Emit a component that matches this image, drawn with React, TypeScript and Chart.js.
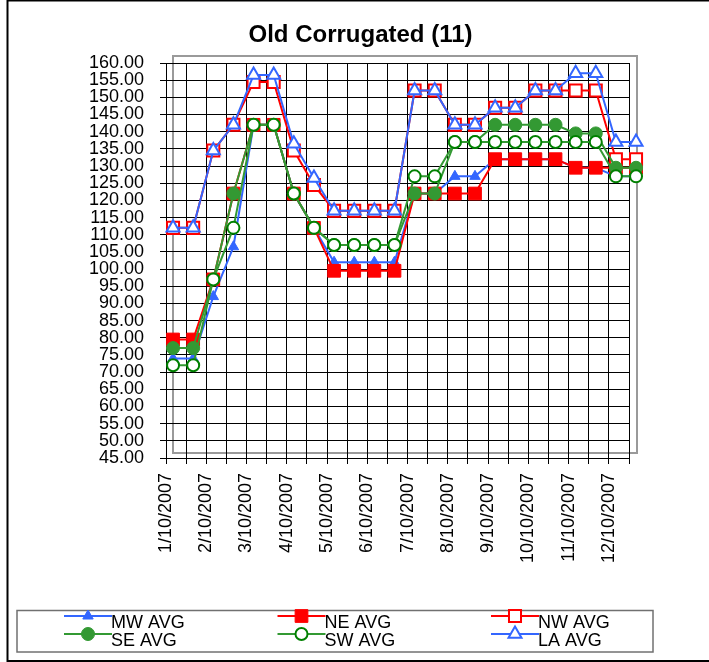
import React, { useEffect, useRef } from 'react';
import { Chart, registerables } from 'chart.js';
import { drawPoint } from 'chart.js/helpers';

Chart.register(...registerables);

const TITLE = 'Old Corrugated (11)';
const X_LABELS = [
  '1/10/2007', '2/10/2007', '3/10/2007', '4/10/2007', '5/10/2007', '6/10/2007',
  '7/10/2007', '8/10/2007', '9/10/2007', '10/10/2007', '11/10/2007', '12/10/2007',
];
const MW_AVG = [74, 74, 92, 106.5, 142, 142, 122, 112, 102, 102, 102, 102, 122, 122, 127, 127, 132, 132, 132, 132, 129.5, 129.5, 127, 127];
const NE_AVG = [79.5, 79.5, 97, 122, 142, 142, 122, 112, 99.5, 99.5, 99.5, 99.5, 122, 122, 122, 122, 132, 132, 132, 132, 129.5, 129.5, 129.5, 129.5];
const NW_AVG = [112, 112, 134.5, 142, 154.5, 154.5, 134.5, 124.5, 117, 117, 117, 117, 152, 152, 142, 142, 147, 147, 152, 152, 152, 152, 132, 132];
const SE_AVG = [77, 77, 97, 122, 142, 142, 122, 112, 107, 107, 107, 107, 122, 122, 137, 137, 142, 142, 142, 142, 139.5, 139.5, 129.5, 129.5];
const SW_AVG = [72, 72, 97, 112, 142, 142, 122, 112, 107, 107, 107, 107, 127, 127, 137, 137, 137, 137, 137, 137, 137, 137, 127, 127];
const LA_AVG = [112, 112, 134.5, 142, 156.5, 156.5, 136.5, 126.5, 117, 117, 117, 117, 152, 152, 142, 142, 147, 147, 152, 152, 157, 157, 137, 137];

const Y_MIN = 45;
const Y_MAX = 160;
const Y_STEP = 5;
const READING_SHIFT = 0.35; // readings sit a little right of each gridline
const FONT = '"Liberation Sans", Arial, sans-serif';

const BLUE = '#3366FF';
const RED = '#FF0000';
const GREEN = '#339933';
const DKGREEN = '#008000';

export default function App() {
  const ref = useRef<HTMLCanvasElement>(null);

  useEffect(() => {
    document.body.style.margin = '0';
    const canvas = ref.current!;
    const toPts = (arr: number[]) => arr.map((y, i) => ({ x: i, y }));
    const nTicks = X_LABELS.length * 2;

    const mk = (label: string, data: number[], line: string, style: string, radius: number, fill: string, border: string, bw: number, order: number) => ({
      label,
      data: toPts(data),
      borderColor: line,
      borderWidth: 2,
      pointStyle: style,
      pointRadius: radius,
      pointBackgroundColor: fill,
      pointBorderColor: border,
      pointBorderWidth: bw,
      tension: 0,
      clip: false as any,
      order,
    });

    const datasets = [
      mk('MW AVG', MW_AVG, BLUE, 'triangle', 6, BLUE, BLUE, 1, 6),
      mk('NE AVG', NE_AVG, RED, 'rect', 9, RED, RED, 1, 5),
      mk('NW AVG', NW_AVG, RED, 'rect', 8.5, '#fff', RED, 2, 4),
      mk('SE AVG', SE_AVG, GREEN, 'circle', 6.5, GREEN, GREEN, 1, 3),
      mk('SW AVG', SW_AVG, GREEN, 'circle', 6, '#fff', DKGREEN, 2, 2),
      mk('LA AVG', LA_AVG, BLUE, 'triangle', 7.5, '#fff', BLUE, 2, 1),
    ];

    const decor = {
      id: 'decor',
      beforeDraw(chart: any) {
        const { ctx, chartArea: a } = chart;
        ctx.save();
        ctx.fillStyle = '#fff';
        ctx.fillRect(0, 0, chart.width, chart.height);
        ctx.strokeStyle = '#000';
        ctx.lineWidth = 2;
        ctx.strokeRect(7.5, 0.5, chart.width + 10, 660.5);
        ctx.strokeStyle = '#9a9a9a';
        ctx.lineWidth = 2;
        ctx.strokeRect(a.left + 7, a.top - 7, a.width + 1, a.height + 2);
        ctx.restore();
      },
      afterDraw(chart: any) {
        const { ctx } = chart;
        ctx.save();
        ctx.fillStyle = '#000';
        ctx.font = `bold 24px ${FONT}`;
        ctx.textAlign = 'center';
        ctx.textBaseline = 'alphabetic';
        ctx.fillText(TITLE, 360.5, 41.5);

        // legend
        ctx.strokeStyle = '#707070';
        ctx.lineWidth = 1.5;
        ctx.strokeRect(17, 610.5, 636, 41.5);
        ctx.font = `18px ${FONT}`;
        ctx.textAlign = 'left';
        ctx.textBaseline = 'middle';
        chart.data.datasets.forEach((ds: any, i: number) => {
          const col = i % 3;
          const row = Math.floor(i / 3);
          const x0 = 64 + col * 213.5;
          const x1 = x0 + 48;
          const y = 616 + row * 18;
          ctx.strokeStyle = ds.borderColor;
          ctx.lineWidth = 2;
          ctx.beginPath();
          ctx.moveTo(x0, y);
          ctx.lineTo(x1, y);
          ctx.stroke();
          ctx.fillStyle = ds.pointBackgroundColor;
          ctx.strokeStyle = ds.pointBorderColor;
          ctx.lineWidth = ds.pointBorderWidth;
          drawPoint(ctx, { pointStyle: ds.pointStyle, radius: ds.pointRadius, rotation: 0, borderWidth: ds.pointBorderWidth } as any, (x0 + x1) / 2, y);
          ctx.fillStyle = '#000';
          ctx.fillText(ds.label, x1 - 1, y + 7.5);
        });
        ctx.restore();
      },
    };

    const chart = new Chart(canvas, {
      type: 'line',
      data: { datasets: datasets as any },
      plugins: [decor],
      options: {
        responsive: false,
        animation: false,
        layout: { padding: { top: 63, left: 0, right: 80, bottom: 0 } },
        plugins: { legend: { display: false }, title: { display: false }, tooltip: { enabled: false } },
        scales: {
          x: {
            type: 'linear',
            min: -READING_SHIFT,
            max: nTicks - 1 - READING_SHIFT,
            afterBuildTicks: (s: any) => {
              s.ticks = Array.from({ length: nTicks }, (_, k) => ({ value: k - READING_SHIFT }));
            },
            afterFit: (s: any) => { s.height = 204; },
            grid: { color: '#000', lineWidth: 1, tickLength: 6, drawTicks: true },
            border: { display: true, color: '#000', width: 1 },
            ticks: {
              autoSkip: false,
              minRotation: 90,
              maxRotation: 90,
              padding: 9,
              color: '#000',
              font: { family: FONT, size: 18 },
              callback: (_v: any, i: number) => (i % 2 === 0 ? X_LABELS[i / 2] : ''),
            },
          },
          y: {
            type: 'linear',
            min: Y_MIN,
            max: Y_MAX,
            afterBuildTicks: (s: any) => {
              const t = [];
              for (let v = Y_MIN; v <= Y_MAX + 1e-9; v += Y_STEP) t.push({ value: v });
              s.ticks = t;
            },
            afterFit: (s: any) => { s.width = 166; },
            grid: { color: '#000', lineWidth: 1, tickLength: 6, drawTicks: true },
            border: { display: true, color: '#000', width: 1 },
            ticks: {
              autoSkip: false,
              padding: 16,
              color: '#000',
              font: { family: FONT, size: 18 },
              callback: (v: any) => Number(v).toFixed(2),
            },
          },
        },
      } as any,
    });
    return () => chart.destroy();
  }, []);

  return (
    <div style={{ width: 709, height: 662 }}>
      <canvas ref={ref} width={709} height={662} style={{ display: 'block' }} />
    </div>
  );
}
